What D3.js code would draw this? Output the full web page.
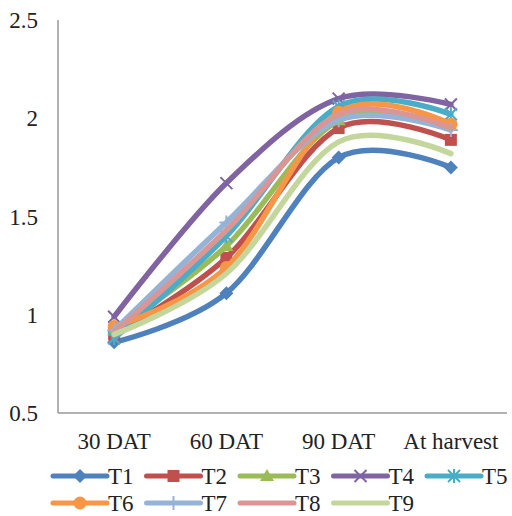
<!DOCTYPE html>
<head>
  <script src="https://d3js.org/d3.v7.min.js"></script>
  <style>
  body {margin: 0; background: white;}
  text {font-family: "Liberation Serif", "Times New Roman", serif; font-size: 23px; fill: #222;}
  </style>
</head>
<body>
  <svg id="chart" width="512" height="516"></svg>
  <script>
  var stages = ["30 DAT", "60 DAT", "90 DAT", "At harvest"];
  var seriesNames = ["T1", "T2", "T3", "T4", "T5", "T6", "T7", "T8", "T9"];
  var yTicks = [0.5, 1, 1.5, 2, 2.5];
  var t1 = [0.86, 1.11, 1.80, 1.75];
  var t2 = [0.90, 1.29, 1.95, 1.89];
  var t3 = [0.92, 1.35, 1.99, 1.96];
  var t4 = [0.99, 1.67, 2.10, 2.07];
  var t5 = [0.88, 1.40, 2.06, 2.02];
  var t6 = [0.94, 1.24, 2.03, 1.97];
  var t7 = [0.92, 1.47, 1.99, 1.94];
  var t8 = [0.91, 1.43, 2.02, 1.95];
  var t9 = [0.90, 1.21, 1.88, 1.82];
  var colors = ["#4f81bd", "#c0504d", "#9bbb59", "#8064a2", "#4bacc6", "#f79646", "#95b3d7", "#d99694", "#c3d69b"];
  var markers = ["diamond", "square", "triangle", "x", "star", "circle", "plus", "none", "none"];

  var allValues = [t1, t2, t3, t4, t5, t6, t7, t8, t9];
  var series = seriesNames.map(function(n, i) {
    return {name: n, values: allValues[i], color: colors[i], marker: markers[i]};
  });

  var svg = d3.select("#chart");
  var plotLeft = 58, plotRight = 507, plotTop = 20, plotBottom = 413;

  var x = d3.scalePoint().domain(stages).range([plotLeft, plotRight]).padding(0.5);
  var y = d3.scaleLinear().domain([0.5, 2.5]).range([plotBottom, plotTop]);

  // axes: plain gray lines, no tick marks
  svg.append("line").attr("x1", plotLeft).attr("x2", plotLeft).attr("y1", plotTop).attr("y2", plotBottom)
    .attr("stroke", "#999").attr("stroke-width", 1.5);
  svg.append("line").attr("x1", plotLeft).attr("x2", plotRight).attr("y1", plotBottom).attr("y2", plotBottom)
    .attr("stroke", "#999").attr("stroke-width", 1.5);

  svg.selectAll("text.ytick").data(yTicks).enter().append("text")
    .attr("class", "ytick")
    .attr("x", 38)
    .attr("y", function(d) { return y(d); })
    .attr("dy", "0.35em")
    .attr("text-anchor", "end")
    .text(function(d) { return d; });

  svg.selectAll("text.xtick").data(stages).enter().append("text")
    .attr("class", "xtick")
    .attr("x", function(d) { return x(d); })
    .attr("y", 449)
    .attr("text-anchor", "middle")
    .text(function(d) { return d; });

  var line = d3.line()
    .x(function(d, i) { return x(stages[i]); })
    .y(function(d) { return y(d); })
    .curve(d3.curveCardinal.tension(0));

  function drawMarker(g, type, color, cx, cy) {
    var s = 6;
    if (type == "diamond") {
      g.append("path").attr("d", "M" + cx + "," + (cy - 7) + "L" + (cx + 7) + "," + cy + "L" + cx + "," + (cy + 7) + "L" + (cx - 7) + "," + cy + "Z")
        .attr("fill", color);
    } else if (type == "square") {
      g.append("rect").attr("x", cx - s).attr("y", cy - s).attr("width", 2 * s).attr("height", 2 * s).attr("fill", color);
    } else if (type == "triangle") {
      g.append("path").attr("d", "M" + cx + "," + (cy - 7) + "L" + (cx + 7) + "," + (cy + 5) + "L" + (cx - 7) + "," + (cy + 5) + "Z")
        .attr("fill", color);
    } else if (type == "circle") {
      g.append("circle").attr("cx", cx).attr("cy", cy).attr("r", 6.5).attr("fill", color);
    } else if (type == "x" || type == "star" || type == "plus") {
      var p = "";
      if (type != "plus") {
        p += "M" + (cx - s) + "," + (cy - s) + "L" + (cx + s) + "," + (cy + s);
        p += "M" + (cx - s) + "," + (cy + s) + "L" + (cx + s) + "," + (cy - s);
      }
      if (type == "star" || type == "plus") {
        p += "M" + cx + "," + (cy - 7) + "L" + cx + "," + (cy + 7);
      }
      if (type == "plus") {
        p += "M" + (cx - 7) + "," + cy + "L" + (cx + 7) + "," + cy;
      }
      g.append("path").attr("d", p).attr("stroke", color).attr("stroke-width", 2).attr("fill", "none");
    }
  }

  series.forEach(function(s) {
    var g = svg.append("g");
    g.append("path")
      .attr("d", line(s.values))
      .attr("fill", "none")
      .attr("stroke", s.color)
      .attr("stroke-width", 5.5)
      .attr("stroke-linecap", "round");
    s.values.forEach(function(v, i) {
      drawMarker(g, s.marker, s.color, x(stages[i]), y(v));
    });
  });

  // legend, two rows
  var legend = svg.append("g");
  series.forEach(function(s, i) {
    var lx = 53 + (i % 5) * 93.5;
    var ly = i < 5 ? 476 : 503;
    var g = legend.append("g");
    g.append("line").attr("x1", lx).attr("x2", lx + 54).attr("y1", ly).attr("y2", ly)
      .attr("stroke", s.color).attr("stroke-width", 5).attr("stroke-linecap", "round");
    drawMarker(g, s.marker, s.color, lx + 27, ly);
    g.append("text").attr("x", lx + 55).attr("y", ly + 8).text(s.name);
  });
  </script>
</body>
